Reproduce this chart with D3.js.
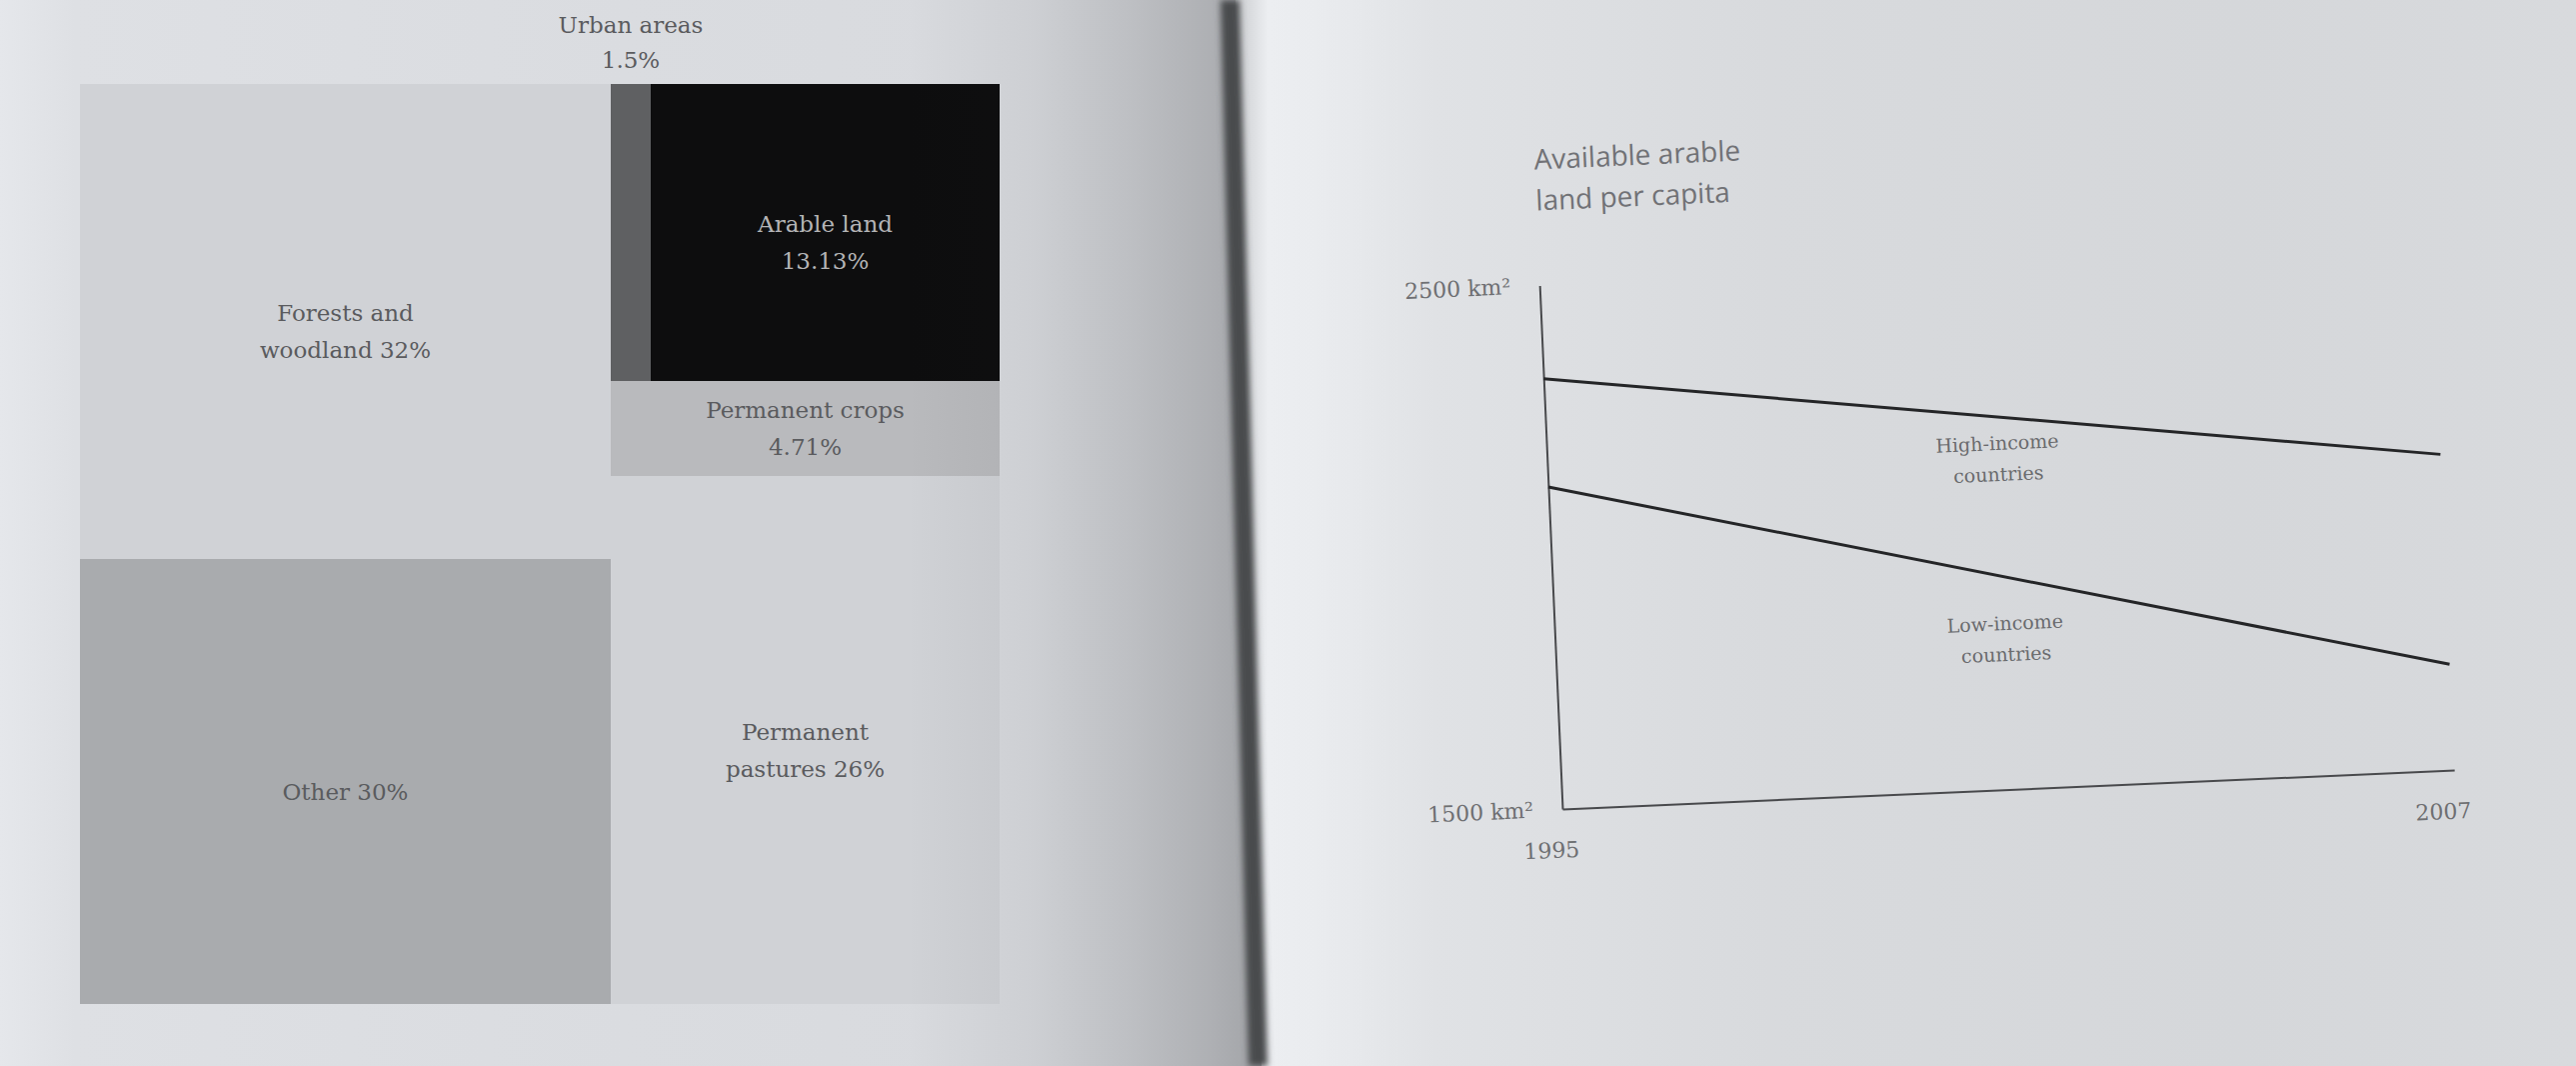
<!DOCTYPE html>
<html>
<head>
<meta charset="utf-8">
<script src="https://cdn.jsdelivr.net/npm/d3@7"></script>
<style>
  html, body { margin: 0; padding: 0; background: #d8dade; overflow: hidden; }
  svg { display: block; }
</style>
</head>
<body>
<svg id="spread" width="2577" height="1066"></svg>
<script>
// ---- Land use: share of the world's land area (%) ----
const regions = ["Forests and woodland", "Other", "Urban areas", "Arable land", "Permanent crops", "Permanent pastures"];
const shares = [32, 30, 1.5, 13.13, 4.71, 26];
// block each region sits in: left column, right column, or the top row of the right column
const blocks = ["left", "left", "rightTop", "rightTop", "right", "right"];

// ---- Available arable land per capita (km²) ----
const years = [1995, 2007];
const highIncome = [2322, 2103];
const lowIncome = [2115, 1702];
const yTicks = [1500, 2500];

const W = 2577, H = 1066;
const svg = d3.select("#spread");
const defs = svg.append("defs");

function gradient(id, x1, x2, stops) {
  const g = defs.append("linearGradient").attr("id", id)
    .attr("gradientUnits", "userSpaceOnUse")
    .attr("x1", x1).attr("x2", x2).attr("y1", 0).attr("y2", 0);
  stops.forEach(([o, c, a]) => g.append("stop").attr("offset", o)
    .attr("stop-color", c).attr("stop-opacity", a === undefined ? 1 : a));
}
gradient("leftPaper", 0, 1250, [[0, "#e5e7eb"], [0.06, "#dee0e4"], [0.5, "#dadce0"], [1, "#d7d9dd"]]);
gradient("gutterShade", 0, 1260, [[0, "#26272a", 0], [0.72, "#26272a", 0], [0.82, "#26272a", 0.06],
  [0.9, "#26272a", 0.15], [0.96, "#26272a", 0.23], [1, "#26272a", 0.3]]);
gradient("rightPaper", 1235, W, [[0, "#c9cbce"], [0.025, "#eceef1"], [0.06, "#eaecef"], [0.15, "#e0e2e5"],
  [0.4, "#d8dadd"], [0.75, "#d5d7da"], [1, "#d8dadd"]]);
defs.append("filter").attr("id", "soft").attr("x", "-50%").attr("width", "200%")
  .append("feGaussianBlur").attr("stdDeviation", 3);

// ---- paper ----
const line = d3.line();
svg.append("path").attr("d", line([[0, 0], [1236, 0], [1262, H], [0, H]]) + "Z").attr("fill", "url(#leftPaper)");
svg.append("path").attr("d", line([[1236, 0], [W, 0], [W, H], [1262, H]]) + "Z").attr("fill", "url(#rightPaper)");

// ---- treemap of land use ----
const colours = {
  "Forests and woodland": "#d0d2d6",
  "Other": "#a9abae",
  "Urban areas": "#5f6062",
  "Arable land": "#0d0d0e",
  "Permanent crops": "#b9babd",
  "Permanent pastures": "#d0d2d6"
};
const labelLines = {
  "Forests and woodland": ["Forests and", "woodland"],
  "Other": ["Other"],
  "Urban areas": ["Urban areas", ""],
  "Arable land": ["Arable land", ""],
  "Permanent crops": ["Permanent crops", ""],
  "Permanent pastures": ["Permanent", "pastures"]
};

const leaves = regions.map((name, i) => ({ name, value: shares[i], block: blocks[i] }));
const tree = {
  name: "land",
  children: [
    { name: "left", children: leaves.filter(d => d.block === "left") },
    { name: "right", children: [
      { name: "rightTop", children: leaves.filter(d => d.block === "rightTop") },
      ...leaves.filter(d => d.block === "right")
    ] }
  ]
};
const root = d3.hierarchy(tree).sum(d => d.children ? 0 : d.value);
d3.treemap().tile(d3.treemapSliceDice).size([920, 920]).round(true)(root);

const tm = svg.append("g").attr("transform", "translate(80,84)");
const cells = tm.selectAll("g.cell").data(root.leaves()).join("g").attr("class", "cell");
cells.append("rect")
  .attr("x", d => d.x0).attr("y", d => d.y0)
  .attr("width", d => d.x1 - d.x0).attr("height", d => d.y1 - d.y0)
  .attr("fill", d => colours[d.data.name]);

const pct = v => v + "%";
cells.each(function (d) {
  const name = d.data.name;
  const parts = labelLines[name].slice();
  const last = parts.length - 1;
  parts[last] = parts[last] === "" ? pct(d.data.value) : parts[last] + " " + pct(d.data.value);
  const cx = (d.x0 + d.x1) / 2;
  const cy = (d.y0 + d.y1) / 2 + 10;
  const gap = 37;
  let firstY = cy - (parts.length - 1) * gap / 2;
  if (name === "Urban areas") firstY = d.y0 - 59;   // small strip: label sits above it
  if (name === "Permanent crops") firstY = cy - 10 - gap / 2;
  d3.select(this).selectAll("text").data(parts).join("text")
    .attr("x", cx)
    .attr("y", (t, i) => firstY + i * (name === "Urban areas" ? 35 : gap))
    .attr("dy", "0.35em")
    .attr("text-anchor", "middle")
    .attr("font-family", "'DejaVu Serif', serif")
    .attr("font-size", 23)
    .attr("fill", name === "Arable land" ? "#b4b4b6" : "#5a5b5e")
    .text(t => t);
});

// page curl shading and gutter
svg.append("path").attr("d", line([[0, 0], [1236, 0], [1262, H], [0, H]]) + "Z").attr("fill", "url(#gutterShade)");
svg.append("path").attr("d", line([[1221, 0], [1240, 0], [1268, H], [1249, H]]) + "Z")
  .attr("fill", "#4a4b4d").attr("filter", "url(#soft)");

// ---- line chart: arable land per capita ----
const x = d3.scaleLinear().domain(d3.extent(years)).range([0, 893]);
const y = d3.scaleLinear().domain([1500, 2500]).range([0, -524]);

// the right page sits slightly askew
const chart = svg.append("g").attr("transform", "translate(1563,809) rotate(-2.5)");

const yAxis = chart.append("g")
  .call(d3.axisLeft(y).tickValues(yTicks).tickSize(0).tickSizeOuter(0).tickPadding(29)
    .tickFormat(d => d + " km²"));
yAxis.select(".domain").attr("stroke", "#48494c").attr("stroke-width", 2);
yAxis.selectAll("text").attr("font-family", "'DejaVu Serif', serif").attr("font-size", 22).attr("fill", "#6e6f72");

const xAxis = chart.append("g")
  .call(d3.axisBottom(x).tickValues(years).tickSize(0).tickSizeOuter(0).tickPadding(33)
    .tickFormat(d3.format("d")));
xAxis.select(".domain").attr("stroke", "#48494c").attr("stroke-width", 2);
xAxis.selectAll("text").attr("font-family", "'DejaVu Serif', serif").attr("font-size", 22)
  .attr("fill", "#6e6f72").attr("dx", -13);

const series = [
  { values: highIncome, label: ["High-income", "countries"], offset: 27 },
  { values: lowIncome, label: ["Low-income", "countries"], offset: 48 }
];
const path = d3.line().x((v, i) => x(years[i])).y(v => y(v));
chart.selectAll("path.series").data(series).join("path").attr("class", "series")
  .attr("d", s => path(s.values))
  .attr("fill", "none").attr("stroke", "#242527").attr("stroke-width", 3);

series.forEach(s => {
  const mx = (x(years[0]) + x(years[1])) / 2;
  const my = y(d3.mean(s.values)) + s.offset;
  chart.append("g").selectAll("text").data(s.label).join("text")
    .attr("x", mx + 4).attr("y", (t, i) => my + i * 31).attr("dy", "0.35em")
    .attr("text-anchor", "middle")
    .attr("font-family", "'DejaVu Serif', serif").attr("font-size", 19)
    .attr("fill", "#6a6b6e").text(t => t);
});

chart.append("g").selectAll("text").data(["Available arable", "land per capita"]).join("text")
  .attr("x", 0).attr("y", (t, i) => -650 + i * 41).attr("dy", "0.35em")
  .attr("font-family", "'Open Sans', 'DejaVu Sans', sans-serif").attr("font-size", 28)
  .attr("fill", "#717276").text(t => t);
</script>
</body>
</html>
